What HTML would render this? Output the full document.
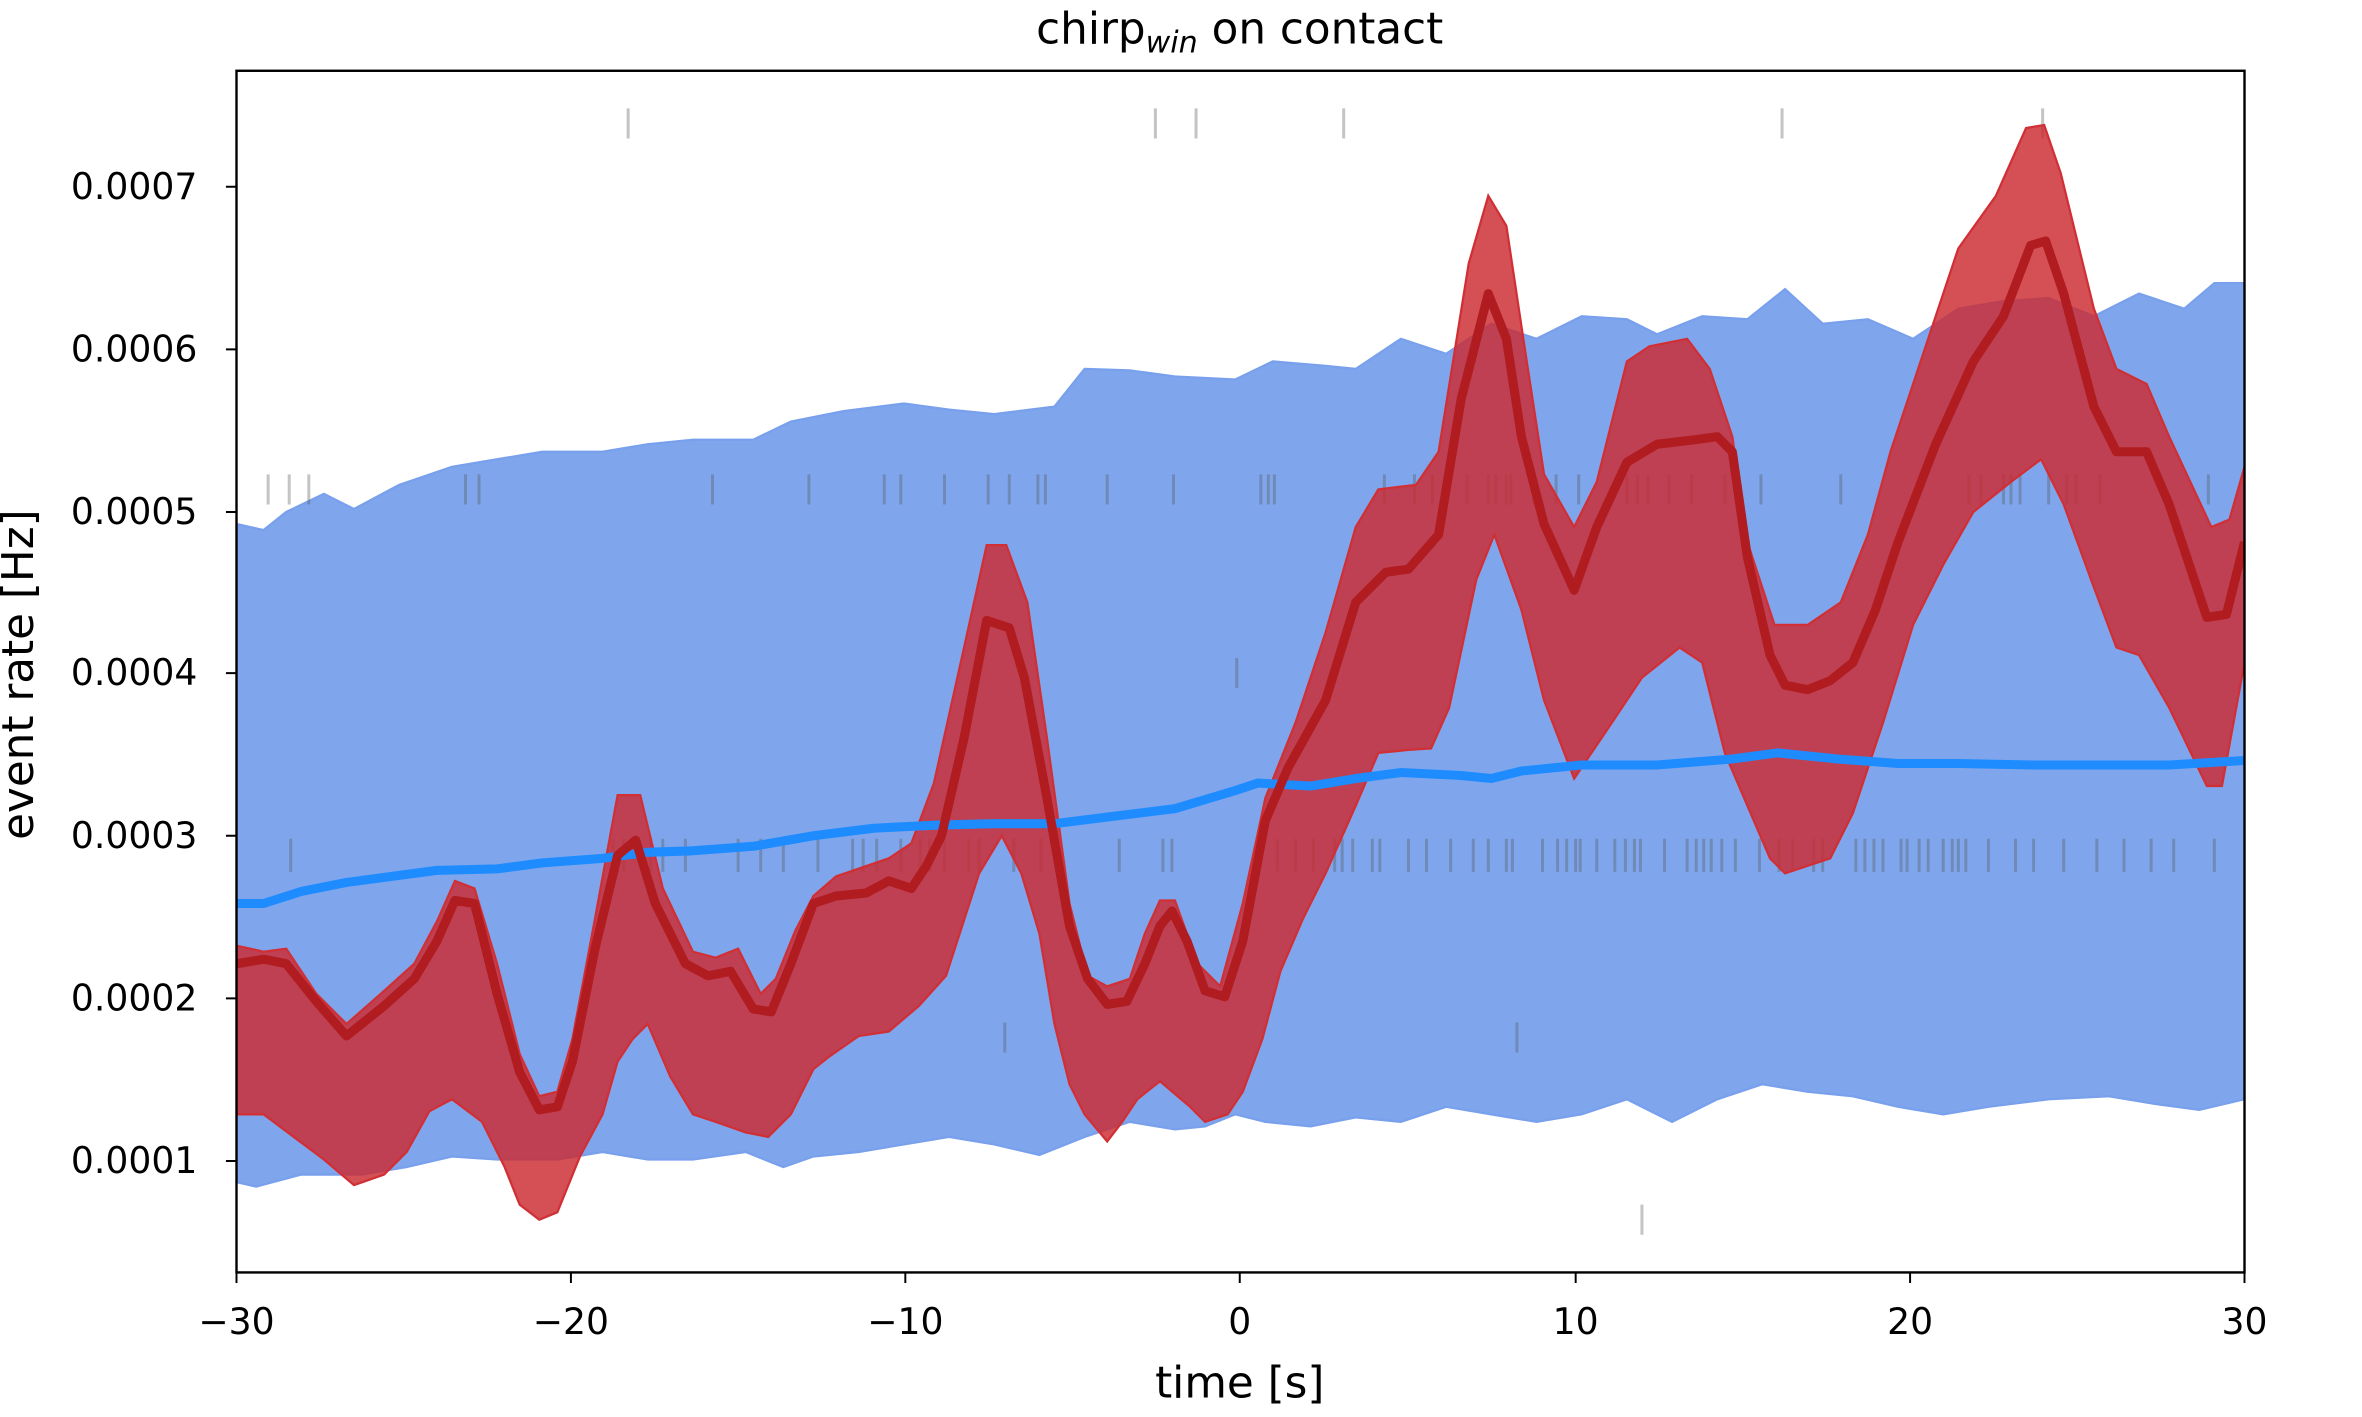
<!DOCTYPE html>
<html><head><meta charset="utf-8"><style>
html,body{margin:0;padding:0;background:#fff;}
svg{display:block;}
text{font-family:"DejaVu Sans","Liberation Sans",sans-serif;fill:#000;}
</style></head><body>
<svg width="2362" height="1417" viewBox="0 0 1568 941" preserveAspectRatio="none" xmlns="http://www.w3.org/2000/svg">
<rect width="1568" height="941" fill="#fff"/>
<defs><clipPath id="c"><rect x="157" y="47" width="1333" height="798"/></clipPath></defs>
<g clip-path="url(#c)">
<polygon fill="#7fa6ec" stroke="#78a0ec" stroke-width="1.5" points="157,348 175,352 190,340 215,328 235,338 265,322 300,310 330,305 360,300 400,300 430,295 460,292 500,292 525,280 560,273 600,268 630,272 660,275 700,270 720,245 750,246 780,250 820,252 845,240 880,243 900,245 930,225 960,235 990,215 1020,225 1050,210 1080,212 1100,222 1130,210 1160,212 1185,192 1210,215 1240,212 1270,225 1300,205 1330,200 1360,198 1390,210 1420,195 1450,205 1470,188 1490,188 1490,730 1460,737 1430,733 1400,728 1360,730 1320,735 1290,740 1260,735 1230,728 1200,725 1170,720 1140,730 1110,745 1080,730 1050,740 1020,745 990,740 960,735 930,745 900,742 870,748 840,745 820,740 800,748 780,750 750,745 720,755 690,767 660,760 630,755 600,760 570,765 540,768 520,775 495,765 460,770 430,770 400,765 370,770 330,770 300,768 270,775 240,780 200,780 170,788 157,785"/>
<g stroke="#555" stroke-opacity="0.35" stroke-width="2">
<path d="M417,72v20M767,72v20M794,72v20M892,72v20M1183,72v20M1356,72v20"/>
<path d="M178,315v20M192,315v20M205,315v20M309,315v20M318,315v20M473,315v20M537,315v20M587,315v20M598,315v20M627,315v20M656,315v20M670,315v20M689,315v20M694,315v20M735,315v20M779,315v20M837,315v20M842,315v20M846,315v20M919,315v20M939,315v20M951,315v20M974,315v20M988,315v20M993,315v20M1000,315v20M1003,315v20M1018,315v20M1033,315v20M1048,315v20M1080,315v20M1087,315v20M1094,315v20M1108,315v20M1123,315v20M1145,315v20M1169,315v20M1222,315v20M1307,315v20M1315,315v20M1330,315v20M1335,315v20M1341,315v20M1360,315v20M1372,315v20M1378,315v20M1394,315v20M1466,315v20"/>
<path d="M821,437v20"/>
<path d="M193,557v22M407,557v22M414,557v22M432,557v22M440,557v22M455,557v22M490,557v22M505,557v22M520,557v22M543,557v22M566,557v22M573,557v22M582,557v22M598,557v22M611,557v22M617,557v22M627,557v22M643,557v22M650,557v22M673,557v22M691,557v22M743,557v22M772,557v22M778,557v22M848,557v22M860,557v22M872,557v22M886,557v22M891,557v22M898,557v22M911,557v22M916,557v22M935,557v22M947,557v22M963,557v22M978,557v22M988,557v22M1000,557v22M1004,557v22M1024,557v22M1034,557v22M1040,557v22M1046,557v22M1049,557v22M1060,557v22M1072,557v22M1079,557v22M1085,557v22M1089,557v22M1105,557v22M1120,557v22M1126,557v22M1131,557v22M1136,557v22M1143,557v22M1152,557v22M1168,557v22M1181,557v22M1190,557v22M1204,557v22M1210,557v22M1232,557v22M1238,557v22M1244,557v22M1250,557v22M1262,557v22M1266,557v22M1274,557v22M1280,557v22M1290,557v22M1296,557v22M1300,557v22M1305,557v22M1320,557v22M1338,557v22M1350,557v22M1370,557v22M1392,557v22M1410,557v22M1428,557v22M1443,557v22M1470,557v22"/>
<path d="M667,679v20M1007,679v20M1090,800v20"/>
</g>
<polygon fill="#cc2a30" fill-opacity="0.82" stroke="#d03035" stroke-width="1.5" points="157,628 175,632 190,630 210,660 230,680 255,658 275,640 290,612 302,585 315,590 330,640 345,700 358,728 370,725 380,690 395,610 410,528 425,528 440,590 460,632 475,636 490,630 505,660 515,650 528,618 540,595 555,582 590,570 605,560 620,520 640,430 655,362 668,362 682,400 695,490 710,600 722,648 735,655 750,650 760,620 770,598 780,598 795,640 810,655 825,600 840,530 860,480 880,420 900,350 915,325 940,322 955,300 975,175 988,130 1000,150 1012,230 1025,315 1045,350 1060,320 1080,240 1095,230 1120,225 1135,245 1150,290 1160,360 1178,415 1200,415 1222,400 1240,355 1255,300 1280,225 1300,165 1325,130 1345,85 1357,83 1368,115 1390,205 1405,245 1425,255 1440,290 1468,350 1480,345 1490,310 1490,440 1475,522 1465,522 1440,470 1420,435 1405,430 1390,390 1370,335 1355,305 1335,320 1310,340 1290,375 1270,415 1250,480 1230,540 1215,570 1200,575 1185,580 1175,570 1160,535 1145,500 1130,440 1115,430 1090,450 1070,480 1045,517 1025,465 1010,405 992,355 980,385 962,470 950,497 935,498 915,500 900,535 880,580 865,610 850,645 838,690 825,725 815,740 800,745 790,735 770,718 755,730 745,745 735,758 720,740 710,720 700,680 690,620 678,580 665,555 650,580 628,648 610,668 590,685 570,688 550,702 540,710 525,740 510,755 495,752 475,745 460,740 445,715 430,680 420,690 410,705 400,740 385,768 370,805 358,810 345,800 335,775 320,745 300,730 285,738 270,765 255,780 235,787 215,770 195,755 175,740 157,740"/>
<polyline fill="none" stroke="#1e8cff" stroke-width="6" stroke-linejoin="round" points="157,600 175,600 200,592 230,586 260,582 290,578 330,577 360,573 400,570 430,566 460,565 500,562 540,555 580,550 620,548 660,547 700,547 740,542 780,537 820,525 835,520 870,522 900,517 930,513 970,515 990,517 1010,512 1050,508 1100,508 1150,504 1180,500 1220,504 1260,507 1300,507 1350,508 1400,508 1440,508 1490,505"/>
<polyline fill="none" stroke="#b01c20" stroke-width="6" stroke-linejoin="round" points="157,640 175,637 190,640 210,665 230,688 255,668 275,650 290,625 302,598 315,600 330,660 345,712 358,737 370,735 380,705 395,630 410,568 422,558 435,600 455,640 470,648 485,645 500,670 512,672 525,640 540,600 555,595 575,593 590,585 605,590 615,575 625,555 640,490 655,412 670,417 680,450 695,530 710,615 722,650 735,667 748,665 760,640 770,615 778,605 788,625 800,658 813,662 825,625 840,545 855,510 880,465 900,400 920,380 935,378 955,355 970,265 988,195 1000,225 1010,290 1025,348 1045,392 1060,350 1080,307 1100,295 1125,292 1140,290 1150,300 1160,370 1175,435 1185,455 1200,458 1215,452 1230,440 1245,405 1260,360 1285,295 1310,240 1330,210 1348,163 1358,160 1370,195 1390,270 1405,300 1425,300 1440,335 1465,410 1478,408 1490,360"/>
</g>
<rect x="157" y="47" width="1333" height="798" fill="none" stroke="#000" stroke-width="1.6"/>
<g stroke="#000" stroke-width="1.3">
<path d="M157,845v7M379,845v7M601,845v7M823,845v7M1046,845v7M1268,845v7M1490,845v7"/>
<path d="M157,124h-7M157,232h-7M157,340h-7M157,447h-7M157,555h-7M157,663h-7M157,771h-7"/>
</g>
<g font-size="24" text-anchor="middle">
<text x="157" y="886">−30</text><text x="379" y="886">−20</text><text x="601" y="886">−10</text><text x="823" y="886">0</text><text x="1046" y="886">10</text><text x="1268" y="886">20</text><text x="1490" y="886">30</text>
</g>
<g font-size="24" text-anchor="end">
<text x="131" y="132">0.0007</text><text x="131" y="240">0.0006</text><text x="131" y="348">0.0005</text><text x="131" y="455">0.0004</text><text x="131" y="563">0.0003</text><text x="131" y="671">0.0002</text><text x="131" y="779">0.0001</text>
</g>
<text x="823" y="928" font-size="29" text-anchor="middle">time [s]</text>
<text transform="translate(22,448) rotate(-90)" font-size="29" text-anchor="middle">event rate [Hz]</text>
<text x="823" y="29" font-size="29" text-anchor="middle">chirp<tspan font-size="20" font-style="italic" dy="6">win</tspan><tspan dy="-6"> on contact</tspan></text>
</svg>
</body></html>
